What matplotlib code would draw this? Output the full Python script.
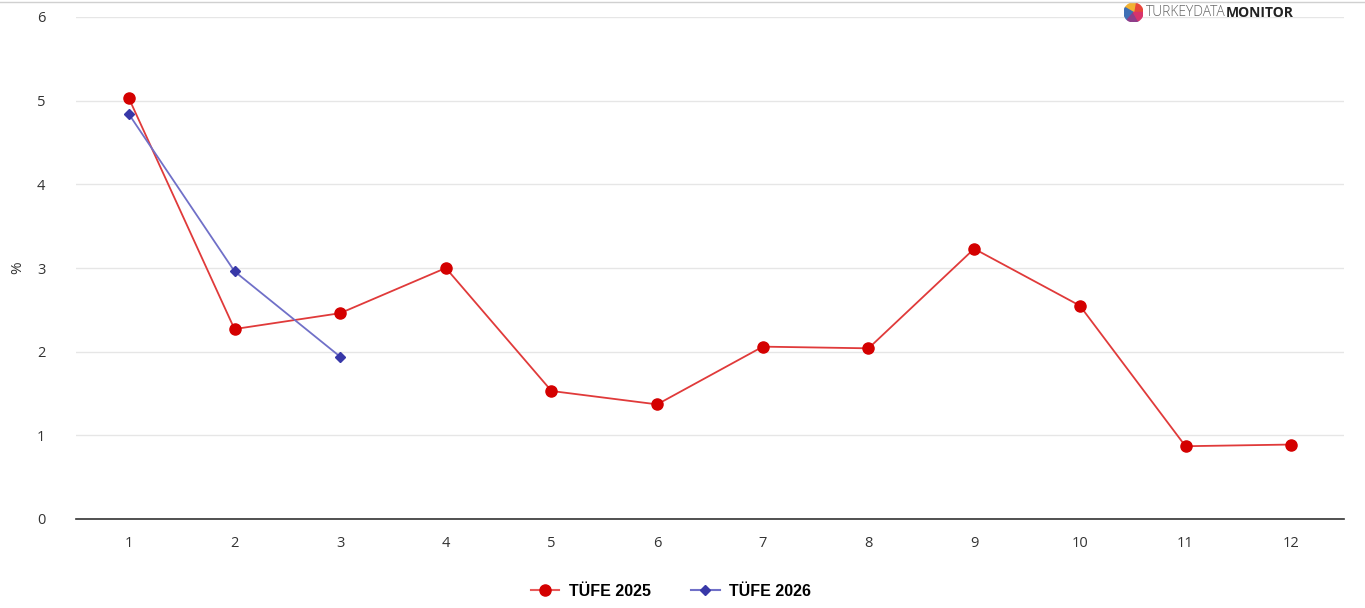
import matplotlib
matplotlib.use("Agg")
import matplotlib.pyplot as plt
from matplotlib.patches import Wedge
from matplotlib.lines import Line2D

months = [1, 2, 3, 4, 5, 6, 7, 8, 9, 10, 11, 12]
tufe_2025 = [5.03, 2.27, 2.46, 3.00, 1.53, 1.37, 2.06, 2.04, 3.23, 2.55, 0.87, 0.89]
months_2026 = [1, 2, 3]
tufe_2026 = [4.84, 2.96, 1.94]
yticks = [0, 1, 2, 3, 4, 5, 6]

plt.rcParams['font.family'] = ['Open Sans', 'DejaVu Sans']

fig = plt.figure(figsize=(13.65, 6.08), dpi=100)
ax = fig.add_axes([76/1365, 1 - 519/608, (1344-76)/1365, (519-17)/608])

ax.plot(months, tufe_2025, color='#e03a3a', lw=1.3, marker='o', ms=8,
        mfc='#d40000', mec='#d40000', zorder=3)
ax.plot(months_2026, tufe_2026, color='#7070c8', lw=1.3, marker='D', ms=5.5,
        mfc='#3838a8', mec='#3838a8', zorder=4)

ax.set_xlim(0.5, 12.5)
ax.set_ylim(0, 6)
ax.set_xticks(months)
ax.set_yticks(yticks)
ax.tick_params(length=0, labelsize=10.5, colors='#333333', pad=12)
ax.tick_params(axis='y', pad=22)
ax.yaxis.grid(True, color='#e6e6e6', lw=1)
ax.set_axisbelow(True)
for s in ['top', 'right', 'left']:
    ax.spines[s].set_visible(False)
ax.spines['bottom'].set_color('#333333')
ax.spines['bottom'].set_linewidth(1.2)
ax.set_ylabel('%', fontsize=11, color='#333333')
ax.yaxis.set_label_coords(-0.040, 0.5)

handles = [
    Line2D([], [], color='#e85a5a', lw=1.5, marker='o', ms=8, mfc='#d40000', mec='#d40000'),
    Line2D([], [], color='#7070c8', lw=1.5, marker='D', ms=5.5, mfc='#3838a8', mec='#3838a8'),
]
fig.legend(handles, ['TÜFE 2025', 'TÜFE 2026'], loc='center', bbox_to_anchor=(671/1365, 1 - 591/608),
           ncol=2, frameon=False, prop={'family': 'Liberation Sans', 'weight': 'bold', 'size': 11.5},
           handlelength=1.8, columnspacing=2.5, handletextpad=0.6)

# top border line
fig.add_artist(Line2D([0, 1], [1 - 2/608, 1 - 2/608], color='#d0d0d0', lw=1))

# logo
lax = fig.add_axes([1124/1365, 1 - 22/608, 19/1365, 19/608])
lax.set_xlim(-1, 1); lax.set_ylim(-1, 1); lax.set_aspect('equal'); lax.axis('off')
cols = ['#e8463a', '#f2b233', '#3f6fb5', '#8e3d8a', '#d8336b']
angs = [0, 80, 150, 230, 300, 360]
for i, c in enumerate(cols):
    lax.add_patch(Wedge((0, 0), 1, angs[i], angs[i+1], color=c))
bg = fig.text(1146/1365, 1 - 13/608, 'TURKEYDATA', fontsize=10, color='#666666',
              family='Open Sans', va='center', ha='left', fontweight='light')
fig.canvas.draw()
bb = bg.get_window_extent()
fig.text(bb.x1 / 1365, 1 - 13/608, 'MONITOR', fontsize=10, color='#222222',
         family='Open Sans', fontweight='bold', va='center', ha='left')

fig.savefig('out.png', dpi=100, facecolor='white')
